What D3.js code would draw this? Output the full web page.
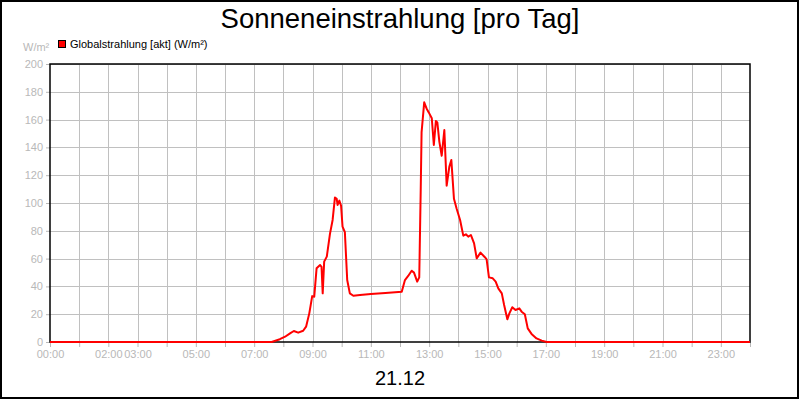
<!DOCTYPE html>
<html><head><meta charset="utf-8">
<script src="https://cdn.jsdelivr.net/npm/d3@7"></script>
<style>body{margin:0;background:#fff}svg{display:block;font-family:"Liberation Sans",Arial,sans-serif}</style>
</head><body>
<svg id="c" width="800" height="400"></svg>
<script>
const title = "Sonneneinstrahlung [pro Tag]";
const dateLabel = "21.12";
const seriesName = "Globalstrahlung [akt] (W/m²)";
const unitLabel = "W/m²";
const xTickHours = [0,2,3,5,7,9,11,13,15,17,19,21,23];
const yTicks = [0,20,40,60,80,100,120,140,160,180,200];
// time of day in hours, irradiance in W/m²
const hours = [0,7.6,7.88,8.06,8.23,8.36,8.51,8.68,8.78,8.89,8.99,9.06,9.14,9.26,9.31,9.35,9.40,9.49,9.60,9.69,9.77,9.83,9.86,9.92,9.98,10.03,10.11,10.19,10.28,10.40,10.63,11.0,11.5,12.06,12.17,12.28,12.40,12.48,12.59,12.66,12.71,12.74,12.83,12.91,12.99,13.09,13.16,13.23,13.28,13.35,13.43,13.52,13.60,13.69,13.76,13.85,13.94,14.06,14.17,14.26,14.34,14.43,14.54,14.63,14.76,14.91,14.97,15.05,15.18,15.28,15.37,15.49,15.57,15.68,15.75,15.85,15.96,16.09,16.17,16.28,16.38,16.51,16.68,16.86,17.03,24];
const values = [0,0,2,3.8,6.2,7.9,6.7,8.1,11,20.6,33,32.6,53,55.4,54,35,57.8,61.4,78,87.8,104,103,98.6,101.7,98,83,79,44.6,35,33.3,33.8,34.5,35.2,36.2,44.6,47.5,51.3,49.9,43.4,46.5,109,151,172.4,168,165,161,141.7,159,158,144,134,152.5,112.5,126,131,103,96,87.8,76.5,77.5,75.8,77,71,60.2,64.3,61,59.5,46.5,45.8,43.4,38.6,35,26.6,16.3,20.6,25,23,24.2,21.8,20,9.8,5.8,2.6,1,0,0];

const data = hours.map((h,i)=>({h, v: values[i]}));
const svg = d3.select("#c");
const L=50, R=750, T=64, B=342;
const x = d3.scaleLinear().domain([0,24]).range([L,R]);
const y = d3.scaleLinear().domain([0,200]).range([B,T]);
const grey = "#b8b8b8";

svg.append("rect").attr("x",1).attr("y",1).attr("width",797).attr("height",397)
  .attr("fill","#fff").attr("stroke","#000").attr("stroke-width",2);

// grid
const g = svg.append("g");
g.selectAll(".vg").data(d3.range(1,24)).join("line")
  .attr("x1",d=>Math.round(x(d))+0.5).attr("x2",d=>Math.round(x(d))+0.5)
  .attr("y1",T).attr("y2",B).attr("stroke","#c0c0c0").attr("stroke-width",1);
g.selectAll(".hg").data(yTicks.slice(1)).join("line")
  .attr("y1",d=>Math.round(y(d))+0.5).attr("y2",d=>Math.round(y(d))+0.5)
  .attr("x1",L).attr("x2",R).attr("stroke","#c0c0c0").attr("stroke-width",1);

// axes
const yAxis = d3.axisLeft(y).tickValues(yTicks).tickSize(4).tickPadding(3);
const ya = svg.append("g").attr("transform",`translate(${L},0)`).call(yAxis);
ya.select(".domain").remove();
ya.selectAll("line").attr("stroke",grey);
ya.selectAll("text").attr("fill",grey).style("font-size","11px").style("font-family","Liberation Sans, Arial, sans-serif");

const xAxis = d3.axisBottom(x).tickValues(d3.range(0,25)).tickSize(5).tickPadding(3)
  .tickFormat(d=>xTickHours.includes(d) ? String(d).padStart(2,"0")+":00" : "");
const xa = svg.append("g").attr("transform",`translate(0,${B})`).call(xAxis);
xa.select(".domain").remove();
xa.selectAll("line").attr("stroke",grey);
xa.selectAll("text").attr("fill",grey).style("font-size","11px").style("font-family","Liberation Sans, Arial, sans-serif");

// frame
svg.append("rect").attr("x",L).attr("y",T).attr("width",R-L).attr("height",B-T)
  .attr("fill","none").attr("stroke","#000").attr("stroke-width",1.5);

// line
svg.append("path").datum(data)
  .attr("d", d3.line().x(d=>x(d.h)).y(d=>y(d.v)))
  .attr("fill","none").attr("stroke","#ff0000").attr("stroke-width",2).attr("stroke-linejoin","round");

// texts
svg.append("text").attr("x",400).attr("y",28).attr("text-anchor","middle")
  .style("font-size","27.5px").attr("fill","#000").text(title);
svg.append("text").attr("x",400).attr("y",385).attr("text-anchor","middle")
  .style("font-size","20px").attr("fill","#000").text(dateLabel);
svg.append("rect").attr("x",58.5).attr("y",40.5).attr("width",7).attr("height",7)
  .attr("fill","#ff0000").attr("stroke","#000").attr("stroke-width",1);
svg.append("text").attr("x",70).attr("y",48).style("font-size","11px").attr("fill","#000").text(seriesName);
svg.append("text").attr("x",23).attr("y",51).style("font-size","11px").attr("fill",grey).text(unitLabel);
</script>
</body></html>
